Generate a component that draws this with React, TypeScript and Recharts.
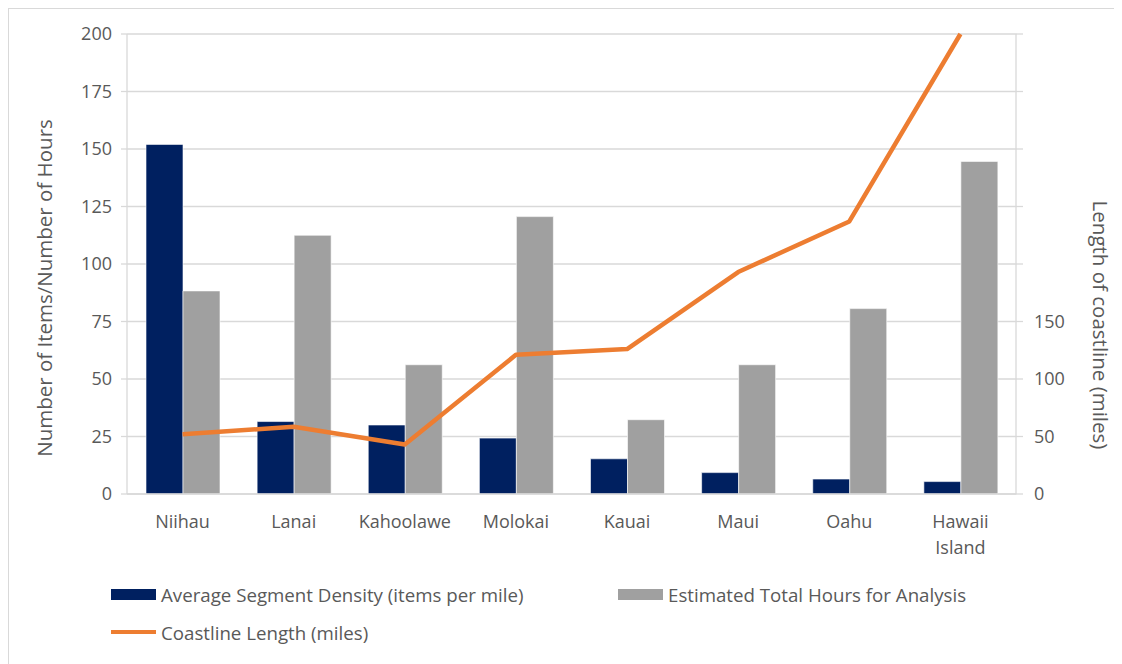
import { Bar, ComposedChart, Line, XAxis, YAxis, CartesianGrid, Legend } from "recharts"

const islands = ["Niihau", "Lanai", "Kahoolawe", "Molokai", "Kauai", "Maui", "Oahu", "Hawaii Island"]
const density = [152, 31.5, 30, 24.3, 15.3, 9.3, 6.5, 5.4]
const hours = [88.3, 112.5, 56.2, 120.6, 32.3, 56.2, 80.6, 144.6]
const coastline = [52, 58.5, 43, 121, 126, 193, 237, 400]

const leftTicks = [0, 25, 50, 75, 100, 125, 150, 175, 200]
const rightTicks = [0, 50, 100, 150, 200, 250, 300, 350, 400]
const rightLabelMax = 150

const data = islands.map((name, i) => ({
  name,
  density: density[i],
  hours: hours[i],
  coastline: coastline[i],
}))

const textColor = "#595959"
const gridColor = "#d9d9d9"
const font = "'Open Sans', sans-serif"

// legend slots, keyed by series
const legendSlots: Record<string, { left: number; top: number }> = {
  density: { left: 0, top: 0 },
  hours: { left: 507, top: 0 },
  coastline: { left: 0, top: 38 },
}

function IslandTick({ x, y, payload }: any) {
  const words = String(payload.value).split(" ")
  return (
    <text x={x} y={y} textAnchor="middle" fill={textColor} fontSize={18} fontFamily={font}>
      {words.map((w) => (
        <tspan key={w} x={x} dy={26}>
          {w}
        </tspan>
      ))}
    </text>
  )
}

function LegendBox({ payload }: any) {
  return (
    <div style={{ position: "relative", width: 900, height: 60, fontFamily: font, fontSize: 18.7, color: textColor }}>
      {(payload || []).map((entry: any) => {
        const slot = legendSlots[entry.dataKey] || legendSlots.density
        const isLine = entry.type === "line"
        return (
          <div
            key={entry.value}
            style={{
              position: "absolute",
              left: slot.left,
              top: slot.top,
              height: 20,
              display: "flex",
              alignItems: "center",
              whiteSpace: "nowrap",
            }}
          >
            <span
              style={{
                display: "inline-block",
                width: 45,
                height: isLine ? 4 : 11,
                background: entry.color,
                marginRight: 5,
              }}
            />
            <span>{entry.value}</span>
          </div>
        )
      })}
    </div>
  )
}

export default function App() {
  return (
    <div style={{ width: 1113, height: 655, border: `1px solid ${gridColor}`, borderRight: "none", borderBottom: "none", fontFamily: font }}>
      <ComposedChart
        width={1113}
        height={655}
        data={data}
        margin={{ top: 25, right: 0, bottom: 110, left: 0 }}
        barGap={0}
      >
        <CartesianGrid yAxisId="left" vertical={false} stroke={gridColor} strokeWidth={1.3} />
        <XAxis
          dataKey="name"
          interval={0}
          tickLine={false}
          axisLine={{ stroke: gridColor, strokeWidth: 1.3 }}
          height={60}
          tick={<IslandTick />}
        />
        <YAxis
          yAxisId="left"
          width={118}
          domain={[0, 200]}
          ticks={leftTicks}
          interval={0}
          axisLine={{ stroke: gridColor, strokeWidth: 1.3 }}
          tickLine={{ stroke: gridColor, strokeWidth: 1.3 }}
          tickSize={6}
          tickMargin={9}
          tick={{ fill: textColor, fontSize: 18, fontFamily: font }}
          label={{
            value: "Number of Items/Number of Hours",
            angle: -90,
            position: "center",
            dx: -23,
            dy: 24,
            fill: textColor,
            fontSize: 20.5,
            fontFamily: font,
          }}
        />
        <YAxis
          yAxisId="right"
          orientation="right"
          width={106}
          domain={[0, 400]}
          ticks={rightTicks}
          interval={0}
          tickFormatter={(v: number) => (v <= rightLabelMax ? String(v) : "")}
          axisLine={{ stroke: gridColor, strokeWidth: 1.3 }}
          tickLine={{ stroke: gridColor, strokeWidth: 1.3 }}
          tickSize={7}
          tickMargin={11}
          tick={{ fill: textColor, fontSize: 18, fontFamily: font }}
          label={{
            value: "Length of coastline (miles)",
            angle: 90,
            position: "center",
            dx: 31,
            dy: 61,
            fill: textColor,
            fontSize: 20.5,
            fontFamily: font,
          }}
        />
        <Legend
          layout="horizontal"
          verticalAlign="middle"
          align="center"
          wrapperStyle={{ left: 102, top: 575, width: 900, height: 60 }}
          content={<LegendBox />}
        />
        <Bar
          yAxisId="left"
          dataKey="density"
          name="Average Segment Density (items per mile)"
          fill="#002060"
          stroke="#ffffff"
          strokeWidth={0.6}
          barSize={37}
          isAnimationActive={false}
        />
        <Bar
          yAxisId="left"
          dataKey="hours"
          name="Estimated Total Hours for Analysis"
          fill="#a0a0a0"
          stroke="#ffffff"
          strokeWidth={0.6}
          barSize={37}
          isAnimationActive={false}
        />
        <Line
          yAxisId="right"
          dataKey="coastline"
          name="Coastline Length (miles)"
          type="linear"
          stroke="#ed7d31"
          strokeWidth={4.5}
          strokeLinejoin="round"
          dot={false}
          legendType="line"
          isAnimationActive={false}
        />
      </ComposedChart>
    </div>
  )
}
